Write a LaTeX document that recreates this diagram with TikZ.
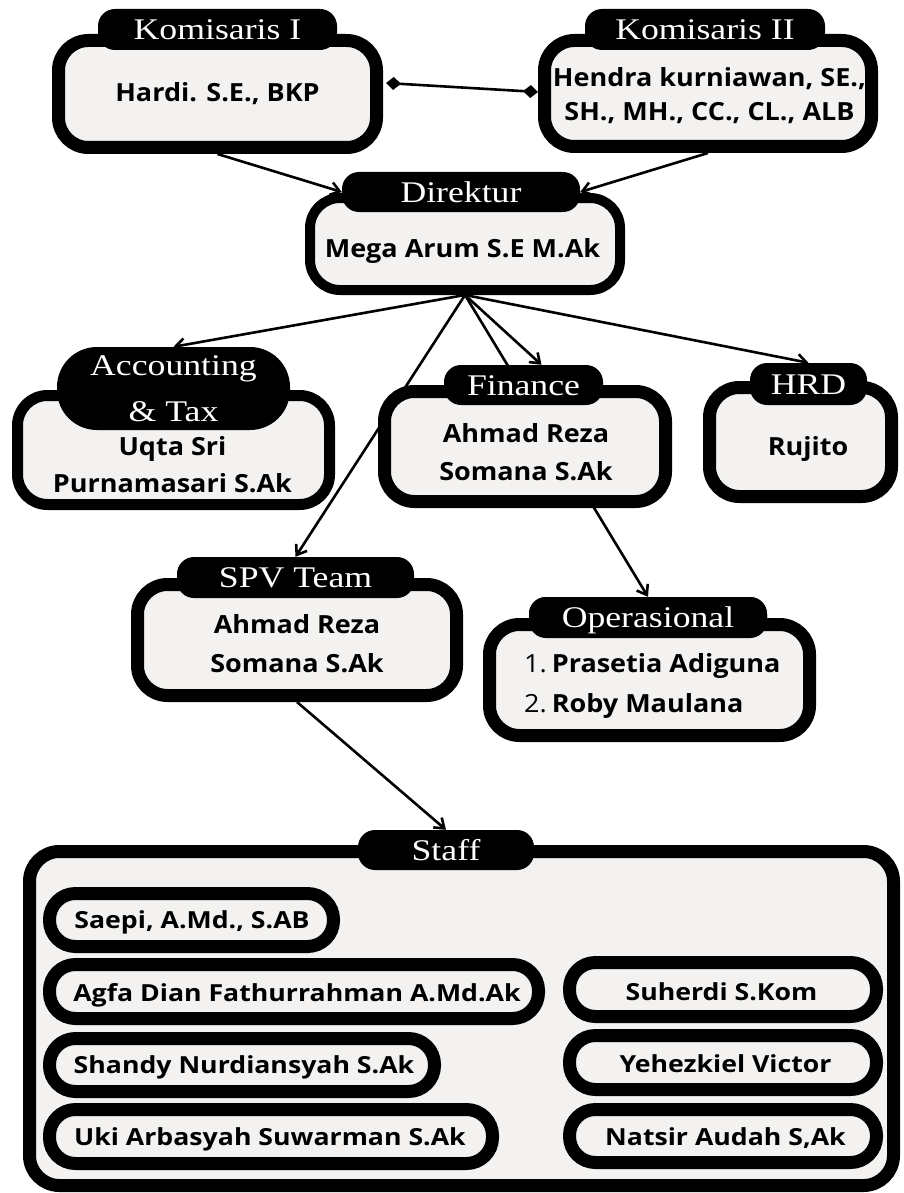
\documentclass[tikz,border=0pt]{standalone}
\usepackage{fontspec}
\usetikzlibrary{arrows.meta,calc}
\newfontfamily\bodyfont{Open Sans}[FakeStretch=1.08]
\newfontfamily\staffont{Open Sans}[FakeStretch=1.135]
\newfontfamily\tabfont{Liberation Serif}[FakeStretch=1.19]
\definecolor{boxfill}{RGB}{243,242,240}
\begin{document}
\begin{tikzpicture}[x=1pt,y=-1pt,
  pbox/.style={draw=black, fill=boxfill, line width=13pt, rounded corners=30pt, inner sep=0pt},
  pill/.style={draw=black, fill=boxfill, line width=13pt, rounded corners=26pt, inner sep=0pt},
  tab/.style={fill=black, text=white, rounded corners=17pt, inner sep=0pt,
    font=\tabfont\fontsize{30}{36}\selectfont, text height=20pt, text depth=0pt},
  body/.style={anchor=base, inner sep=0pt, font=\bodyfont\bfseries\fontsize{25}{30}\selectfont},
  sbody/.style={anchor=base, inner sep=0pt, font=\staffont\bfseries\fontsize{23.5}{28}\selectfont},
  arr/.style={line width=2.6pt, -{Straight Barb[length=9pt,width=13pt,line width=2.6pt]}},
  link/.style={line width=2.6pt, {Diamond[length=15pt,width=13pt]}-{Diamond[length=15pt,width=13pt]}}
]
\useasboundingbox (0,0) rectangle (903,1193);

% connector drawn behind the Finance box
\node[pbox, line width=10pt, minimum width=310pt, minimum height=92pt] (Dir) at (465,244) {};
\node[tab, minimum width=238pt, minimum height=41pt] (OpsT) at (648,617.5) {};
\draw[arr] (Dir.south) -- (OpsT.north);

% boxes
\node[pbox, minimum width=318pt, minimum height=107pt] (K1) at (217.5,94) {};
\node[tab, minimum width=239pt, minimum height=41pt] (K1T) at (217.5,29.5) {Komisaris I};
\node[body] (K1a) at (217.5,102) {Hardi. S.E., BKP};

\node[pbox, minimum width=327pt, minimum height=106pt] (K2) at (708,93.5) {};
\node[tab, minimum width=240pt, minimum height=41pt] (K2T) at (705,29.5) {Komisaris II};
\node[body] (K2a) at (709.5,87) {Hendra kurniawan, SE.,};
\node[body] (K2b) at (709.5,121) {SH., MH., CC., CL., ALB};

\node[tab, minimum width=238pt, minimum height=40pt] (DirT) at (461,192) {Direktur};
\node[body] (Dira) at (462.5,257) {Mega Arum S.E M.Ak};

\node[pbox, line width=11pt, minimum width=312pt, minimum height=109pt] (Acc) at (173.5,450) {};
\node[fill=black, text=white, rounded corners=40pt, inner sep=0pt, align=center,
  font=\tabfont\fontsize{30}{46}\selectfont, minimum width=233pt, minimum height=83pt] (AccT) at (173.5,388.5) {Accounting\\\& Tax};
\node[body] (Acca) at (172.5,455) {Uqta Sri};
\node[body] (Accb) at (172.5,492) {Purnamasari S.Ak};

\node[pbox, minimum width=281pt, minimum height=110pt] (Fin) at (525,446.5) {};
\node[tab, minimum width=159pt, minimum height=40pt] (FinT) at (523.5,385) {Finance};
\node[body] (Fina) at (526,442) {Ahmad Reza};
\node[body] (Finb) at (526,480) {Somana S.Ak};

\node[pbox, minimum width=182pt, minimum height=109pt] (HRD) at (800.5,442) {};
\node[tab, minimum width=117pt, minimum height=42pt] (HRDT) at (808.5,384) {HRD};
\node[body] (HRDa) at (808,455) {Rujito};

\node[pbox, minimum width=319pt, minimum height=111pt] (SPV) at (297,640) {};
\node[tab, minimum width=237pt, minimum height=41pt] (SPVT) at (295.5,577.5) {SPV Team};
\node[body] (SPVa) at (297,633) {Ahmad Reza};
\node[body] (SPVb) at (297,672) {Somana S.Ak};

\node[pbox, minimum width=320pt, minimum height=111pt] (Ops) at (649.5,680) {};
\node[tab, minimum width=238pt, minimum height=41pt] at (OpsT) {Operasional};
\node[body, anchor=base west] (Opsa) at (524,672) {{\mdseries 1.}\hspace{5pt}Prasetia Adiguna};
\node[body, anchor=base west] (Opsb) at (524,712) {{\mdseries 2.}\hspace{5pt}Roby Maulana};

\node[pbox, minimum width=864pt, minimum height=334pt] (Staff) at (461.5,1018.5) {};
\node[tab, minimum width=176pt, minimum height=40pt] (StaffT) at (446,850) {Staff};

\node[pill, minimum width=284pt, minimum height=53pt] (S1) at (191.5,920) {};
\node[sbody] (S1t) at (192,928) {Saepi, A.Md., S.AB};
\node[pill, minimum width=489pt, minimum height=54pt] (S2) at (294,991.5) {};
\node[sbody] (S2t) at (297,1001) {Agfa Dian Fathurrahman A.Md.Ak};
\node[pill, minimum width=385pt, minimum height=53pt] (S3) at (242,1065) {};
\node[sbody] (S3t) at (244,1073) {Shandy Nurdiansyah S.Ak};
\node[pill, minimum width=443pt, minimum height=54pt] (S4) at (271,1136.5) {};
\node[sbody] (S4t) at (270,1145) {Uki Arbasyah Suwarman S.Ak};
\node[pill, minimum width=307pt, minimum height=54pt] (S5) at (723,989.5) {};
\node[sbody] (S5t) at (721.5,1000) {Suherdi S.Kom};
\node[pill, minimum width=307pt, minimum height=54pt] (S6) at (723,1062.5) {};
\node[sbody] (S6t) at (725.5,1072) {Yehezkiel Victor};
\node[pill, minimum width=307pt, minimum height=53pt] (S7) at (723,1136) {};
\node[sbody] (S7t) at (725.5,1145) {Natsir Audah S,Ak};

% connectors
\draw[link] ([xshift=3pt,yshift=11pt]K1.east) -- ([yshift=1.5pt]K2.west);
\draw[arr] (K1.south) -- (DirT.west);
\draw[arr] (K2.south) -- (DirT.east);
\draw[arr] (Dir.south) -- (AccT.north);
\draw[arr] (Dir.south) -- (SPVT.north);
\draw[arr] (Dir.south) -- ([xshift=18pt]FinT.north);
\draw[arr] (Dir.south) -- (HRDT.north);
\draw[arr] (SPV.south) -- (StaffT.north);
\end{tikzpicture}
\end{document}
